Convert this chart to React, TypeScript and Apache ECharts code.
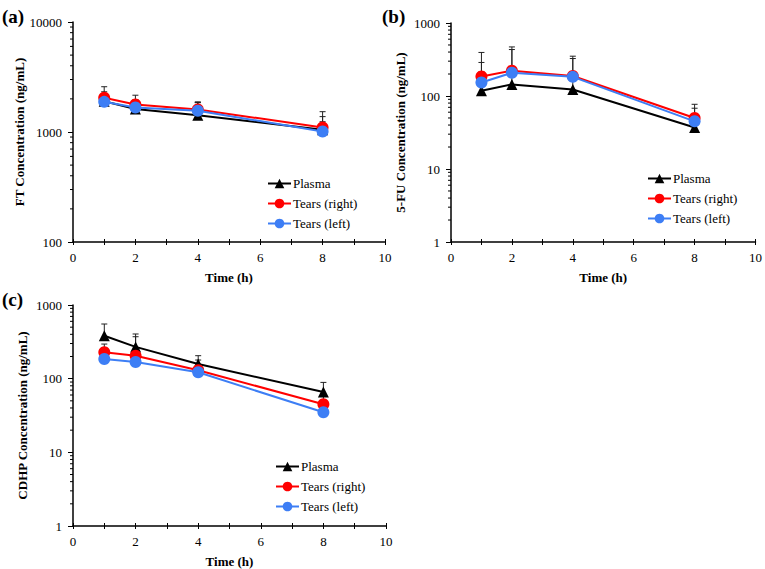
import React, { useEffect, useRef } from "react";
import * as echarts from "echarts";

const TIMES = [1, 2, 4, 8];
const SERIES_NAMES = ["Plasma", "Tears (right)", "Tears (left)"];
const X_TICKS = [0, 2, 4, 6, 8, 10];

// (a) FT
const FT_PLASMA = [1900, 1620, 1420, 1050];
const FT_PLASMA_UP = [2200, 1950, 1850, 1380];
const FT_RIGHT = [2050, 1780, 1600, 1100];
const FT_RIGHT_UP = [2580, 2160, 1880, 1530];
const FT_LEFT = [1880, 1670, 1560, 1010];
const FT_LEFT_UP = [2320, 1950, 1850, 1240];

// (b) 5-FU
const FU_PLASMA = [118, 144, 123, 37];
const FU_PLASMA_UP = [214, 200, 170, 45];
const FU_RIGHT = [185, 222, 188, 50];
const FU_RIGHT_UP = [395, 470, 351, 77];
const FU_LEFT = [153, 208, 183, 45];
const FU_LEFT_UP = [288, 433, 326, 68];

// (c) CDHP
const CD_PLASMA = [383, 270, 158, 66];
const CD_PLASMA_UP = [552, 404, 205, 89];
const CD_RIGHT = [228, 205, 130, 45];
const CD_RIGHT_UP = [295, 371, 179, 58];
const CD_LEFT = [185, 168, 122, 35];
const CD_LEFT_UP = [230, 210, 140, 42];

const FONT = "'Liberation Serif', 'Times New Roman', serif";
const COLORS = ["#000000", "#ff0000", "#3d7ef5"];

export default function App() {
  const ref = useRef<HTMLDivElement>(null);
  useEffect(() => {
    if (!ref.current) return;
    const chart = echarts.init(ref.current, undefined, { renderer: "svg" });

    const panels = [
      {
        label: "(a)",
        yName: "FT Concentration (ng/mL)",
        yMin: 100,
        yMax: 10000,
        grid: { left: 73, top: 22, width: 312, height: 220 },
        legend: { left: 267, top: 177 },
        means: [FT_PLASMA, FT_RIGHT, FT_LEFT],
        ups: [FT_PLASMA_UP, FT_RIGHT_UP, FT_LEFT_UP],
        labelPos: { x: 2, y: 7 },
      },
      {
        label: "(b)",
        yName: "5-FU Concentration (ng/mL)",
        yMin: 1,
        yMax: 1000,
        grid: { left: 451, top: 23, width: 307, height: 219 },
        legend: { left: 647, top: 172 },
        means: [FU_PLASMA, FU_RIGHT, FU_LEFT],
        ups: [FU_PLASMA_UP, FU_RIGHT_UP, FU_LEFT_UP],
        labelPos: { x: 382, y: 7 },
      },
      {
        label: "(c)",
        yName: "CDHP Concentration (ng/mL)",
        yMin: 1,
        yMax: 1000,
        grid: { left: 73, top: 305, width: 313, height: 221 },
        legend: { left: 275, top: 460 },
        means: [CD_PLASMA, CD_RIGHT, CD_LEFT],
        ups: [CD_PLASMA_UP, CD_RIGHT_UP, CD_LEFT_UP],
        labelPos: { x: 2, y: 290 },
      },
    ];

    const grids: any[] = [];
    const xAxes: any[] = [];
    const yAxes: any[] = [];
    const series: any[] = [];
    const legends: any[] = [];
    const graphics: any[] = [];

    panels.forEach((p, i) => {
      grids.push({ ...p.grid, containLabel: false });
      xAxes.push({
        type: "value",
        gridIndex: i,
        min: 0,
        max: 10,
        interval: 1,
        position: "bottom",
        axisLine: { show: true, lineStyle: { color: "#000", width: 1.5 } },
        axisTick: { show: true, length: 3, lineStyle: { color: "#000", width: 1 } },
        splitLine: { show: false },
        axisLabel: {
          fontFamily: FONT,
          fontSize: 13,
          color: "#000",
          margin: 9,
          formatter: (v: number) => (X_TICKS.includes(v) ? String(v) : ""),
        },
        name: "Time (h)",
        nameLocation: "middle",
        nameGap: 29,
        nameTextStyle: { fontFamily: FONT, fontSize: 13, fontWeight: "bold", color: "#000" },
      });
      yAxes.push({
        type: "log",
        logBase: 10,
        gridIndex: i,
        min: p.yMin,
        max: p.yMax,
        axisLine: { show: true, lineStyle: { color: "#000", width: 1.5 } },
        axisTick: { show: true, length: 5, lineStyle: { color: "#000", width: 1 } },
        minorTick: { show: false },
        splitLine: { show: false },
        axisLabel: {
          fontFamily: FONT,
          fontSize: 13,
          color: "#000",
          margin: 11,
          formatter: (v: number) => String(Math.round(v)),
        },
        name: p.yName,
        nameLocation: "middle",
        nameGap: 44,
        nameTextStyle: { fontFamily: FONT, fontSize: 13, fontWeight: "bold", color: "#000" },
      });

      // error bars (upper only)
      const ebData: number[][] = [];
      p.means.forEach((arr, s) => {
        arr.forEach((m, k) => ebData.push([TIMES[k], m, p.ups[s][k]]));
      });
      series.push({
        type: "custom",
        xAxisIndex: i,
        yAxisIndex: i,
        z: 1,
        silent: true,
        encode: { x: 0, y: [1, 2] },
        data: ebData,
        renderItem: (params: any, api: any) => {
          const x = api.value(0);
          const p0 = api.coord([x, api.value(1)]);
          const p1 = api.coord([x, api.value(2)]);
          const st = { stroke: "#222", lineWidth: 1 };
          return {
            type: "group",
            children: [
              { type: "line", shape: { x1: p0[0], y1: p0[1], x2: p1[0], y2: p1[1] }, style: st },
              { type: "line", shape: { x1: p1[0] - 3, y1: p1[1], x2: p1[0] + 3, y2: p1[1] }, style: st },
            ],
          };
        },
      });

      // log minor ticks on y axis
      const minor: number[][] = [];
      for (let d = p.yMin; d < p.yMax; d *= 10) {
        for (let m = 2; m <= 9; m++) minor.push([0, d * m]);
      }
      series.push({
        type: "custom",
        xAxisIndex: i,
        yAxisIndex: i,
        silent: true,
        clip: false,
        z: 3,
        encode: { x: 0, y: 1 },
        data: minor,
        renderItem: (params: any, api: any) => {
          const c = api.coord([api.value(0), api.value(1)]);
          return {
            type: "line",
            shape: { x1: c[0] - 3, y1: c[1], x2: c[0], y2: c[1] },
            style: { stroke: "#000", lineWidth: 1 },
          };
        },
      });

      p.means.forEach((arr, s) => {
        series.push({
          type: "line",
          name: SERIES_NAMES[s],
          xAxisIndex: i,
          yAxisIndex: i,
          z: 2 + s * 0.1,
          data: arr.map((v, k) => [TIMES[k], v]),
          symbol: s === 0 ? "triangle" : "circle",
          symbolSize: s === 0 ? 11 : 12,
          itemStyle: { color: COLORS[s] },
          lineStyle: { color: COLORS[s], width: 2 },
        });
      });

      legends.push({
        orient: "vertical",
        left: p.legend.left,
        top: p.legend.top,
        itemWidth: 23,
        itemHeight: 12,
        itemGap: 7,
        selectedMode: false,
        padding: 0,
        textStyle: { fontFamily: FONT, fontSize: 13, color: "#000", padding: [0, 0, 0, -3] },
        data: SERIES_NAMES,
      });

      graphics.push({
        type: "text",
        left: p.labelPos.x,
        top: p.labelPos.y,
        style: { text: p.label, font: `bold 19px ${FONT}`, fill: "#000" },
      });
    });

    // inner half of crossing x ticks
    panels.forEach((p, i) => {
      xAxes.push({
        type: "value",
        gridIndex: i,
        min: 0,
        max: 10,
        interval: 1,
        position: "bottom",
        axisLine: { show: false },
        axisTick: { show: true, inside: true, length: 3, lineStyle: { color: "#000", width: 1 } },
        axisLabel: { show: false },
        splitLine: { show: false },
      });
    });

    chart.setOption({
      animation: false,
      backgroundColor: "#ffffff",
      grid: grids,
      xAxis: xAxes,
      yAxis: yAxes,
      legend: legends,
      series,
      graphic: graphics,
    });
    return () => chart.dispose();
  }, []);
  return (
    <div
      ref={ref}
      style={{ position: "absolute", left: 0, top: 0, width: 765, height: 569, background: "#fff" }}
    />
  );
}
